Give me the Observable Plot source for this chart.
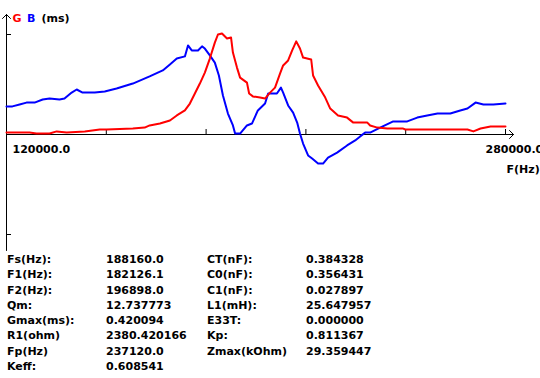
<!DOCTYPE html>
<html>
<head>
<meta charset="utf-8">
<script src="https://cdn.jsdelivr.net/npm/d3@7"></script>
<script src="https://cdn.jsdelivr.net/npm/@observablehq/plot@0.6"></script>
<style>
  html, body { margin: 0; padding: 0; background: #fff; }
  #wrap { position: relative; width: 540px; height: 378px; overflow: hidden; background: #fff;
          font-family: "DejaVu Sans", sans-serif; font-weight: bold; font-size: 11px; color: #000; }
  #wrap svg { display: block; }
  #params { position: absolute; left: 7px; top: 252px; display: grid;
            grid-template-columns: 99px 101px 99px auto; line-height: 15.3px; white-space: nowrap; }
</style>
</head>
<body>
<div id="wrap"><div id="chart"></div><div id="params"></div></div>
<script>
// ---- data ----
const xDomain = [120000, 280000];            // F(Hz)
const yTickValues = [-0.42, 0.42];           // ms
const xTickValues = [152000, 184000, 216000, 248000, 280000];
const xEndLabels = ["120000.0", "280000.0"];
const xTitle = "F(Hz)";
const legendParts = ["G", "B", "(ms)"];

// Conductance G (red)
const freqG = [120000, 127400, 129600, 133800, 136100, 139300, 145100, 149900, 152100, 160500,
  164300, 165900, 169200, 172400, 174600, 177200, 178800, 180400, 182000, 183600,
  185200, 186800, 187800, 189100, 190700, 192000, 192600, 193900, 194900, 197100,
  197800, 199000, 201300, 202900, 204500, 206100, 207700, 208700, 210300, 211600,
  212900, 214100, 215100, 217700, 218300, 219900, 222200, 223800, 226300, 229200,
  231200, 233400, 235700, 236600, 238900, 242100, 247200, 247900, 267800, 269700,
  272000, 275200, 280000];
const valuesG = [0.008, 0.008, 0.004, 0.004, 0.013, 0.008, 0.013, 0.021, 0.021, 0.025,
  0.029, 0.038, 0.046, 0.059, 0.080, 0.101, 0.130, 0.172, 0.214, 0.260,
  0.319, 0.386, 0.420, 0.424, 0.403, 0.407, 0.344, 0.281, 0.239, 0.218,
  0.172, 0.160, 0.155, 0.151, 0.176, 0.197, 0.256, 0.290, 0.311, 0.353,
  0.391, 0.361, 0.323, 0.315, 0.248, 0.206, 0.155, 0.109, 0.080, 0.071,
  0.050, 0.050, 0.050, 0.038, 0.029, 0.025, 0.025, 0.021, 0.021, 0.013,
  0.025, 0.034, 0.034];

// Susceptance B (blue)
const freqB = [120000, 121900, 124200, 126400, 129000, 131600, 133800, 137000, 138600, 140900,
  142500, 144400, 148300, 151500, 155300, 160500, 165900, 170100, 172400, 174600,
  177200, 178200, 179400, 181400, 182700, 183600, 185200, 186800, 188100, 189400,
  191000, 192600, 193300, 194900, 197100, 198700, 200600, 202900, 203900, 206700,
  208000, 208700, 210300, 211900, 213200, 214100, 215100, 216700, 218000, 219900,
  221500, 223100, 226000, 229200, 231800, 233400, 235000, 236600, 239800, 244000,
  248500, 251700, 254900, 258200, 262300, 265500, 267800, 270400, 272900, 276100,
  280000];
const valuesB = [0.118, 0.118, 0.126, 0.134, 0.134, 0.147, 0.151, 0.147, 0.151, 0.176,
  0.189, 0.176, 0.176, 0.181, 0.193, 0.214, 0.244, 0.269, 0.294, 0.319,
  0.328, 0.374, 0.353, 0.353, 0.370, 0.361, 0.332, 0.302, 0.248, 0.164,
  0.088, 0.038, 0.004, 0.004, 0.038, 0.046, 0.101, 0.130, 0.172, 0.172,
  0.197, 0.176, 0.122, 0.092, 0.050, 0.004, -0.038, -0.088, -0.101, -0.122,
  -0.122, -0.097, -0.076, -0.046, -0.025, -0.008, 0.008, 0.008, 0.029, 0.055,
  0.055, 0.071, 0.080, 0.088, 0.088, 0.101, 0.109, 0.134, 0.126, 0.126,
  0.130];

// Parameter table
const paramLabelsLeft = ["Fs(Hz):", "F1(Hz):", "F2(Hz):", "Qm:", "Gmax(ms):", "R1(ohm)", "Fp(Hz)", "Keff:"];
const paramValuesLeft = ["188160.0", "182126.1", "196898.0", "12.737773", "0.420094", "2380.420166", "237120.0", "0.608541"];
const paramLabelsRight = ["CT(nF):", "C0(nF):", "C1(nF):", "L1(mH):", "E33T:", "Kp:", "Zmax(kOhm)"];
const paramValuesRight = ["0.384328", "0.356431", "0.027897", "25.647957", "0.000000", "0.811367", "29.359447"];

// ---- build ----
const G = freqG.map((f, i) => ({f, v: valuesG[i]}));
const B = freqB.map((f, i) => ({f, v: valuesB[i]}));
const textStyle = {textAnchor: "start", lineAnchor: "bottom", fontFamily: "DejaVu Sans", fontWeight: "bold", fontSize: 11};

const chart = Plot.plot({
  width: 540,
  height: 252,
  marginLeft: 6, marginRight: 27, marginTop: 14, marginBottom: 2,
  x: {type: "linear", domain: xDomain, range: [6, 505], axis: null},
  y: {type: "linear", domain: yTickValues, range: [234, 34], axis: null},
  style: {background: "#fff", color: "#000", fontFamily: "DejaVu Sans", fontWeight: "bold", fontSize: "11px", overflow: "visible"},
  marks: [
    // x axis with arrow
    Plot.arrow([0], {x1: () => xDomain[0], x2: () => xDomain[1], y1: () => 0, y2: () => 0,
      insetStart: 0, insetEnd: -8, headAngle: 90, headLength: 8.5, stroke: "#000", strokeWidth: 1}),
    // y axis with arrow
    Plot.arrow([0], {x1: () => xDomain[0], x2: () => xDomain[0], y1: () => yTickValues[0], y2: () => yTickValues[1],
      insetStart: -16, insetEnd: -20, headAngle: 90, headLength: 8.5, stroke: "#000", strokeWidth: 1}),
    // ticks
    Plot.ruleY(yTickValues, {insetRight: 502, stroke: "#000", strokeWidth: 1}),
    Plot.ruleX(xTickValues, {insetTop: 115, insetBottom: 116, stroke: "#000", strokeWidth: 1}),
    // curves
    Plot.line(B, {x: "f", y: "v", stroke: "#0000ff", strokeWidth: 2, curve: "linear"}),
    Plot.line(G, {x: "f", y: "v", stroke: "#ff0000", strokeWidth: 2, curve: "linear"}),
    // legend labels
    Plot.text([legendParts[0]], {frameAnchor: "top-left", text: d => d, dx: 6, dy: 7, fill: "#ff0000", ...textStyle}),
    Plot.text([legendParts[1]], {frameAnchor: "top-left", text: d => d, dx: 20.5, dy: 7, fill: "#0000ff", ...textStyle}),
    Plot.text([legendParts[2]], {frameAnchor: "top-left", text: d => d, dx: 35, dy: 7, fill: "#000", ...textStyle}),
    // axis labels
    Plot.text([xEndLabels[0]], {x: () => xDomain[0], y: () => 0, text: d => d, dx: 6, dy: 18, fill: "#000", ...textStyle}),
    Plot.text([xEndLabels[1]], {x: () => xDomain[1], y: () => 0, text: d => d, dx: -20, dy: 18, fill: "#000", ...textStyle}),
    Plot.text([xTitle], {x: () => xDomain[1], y: () => 0, text: d => d, dx: 1, dy: 38, fill: "#000", ...textStyle})
  ]
});
document.getElementById("chart").appendChild(chart);

const params = document.getElementById("params");
paramLabelsLeft.forEach((lab, i) => {
  const cells = [lab, paramValuesLeft[i], paramLabelsRight[i] || "", paramValuesRight[i] || ""];
  cells.forEach(c => {
    const d = document.createElement("div");
    d.textContent = c;
    params.appendChild(d);
  });
});
</script>
</body>
</html>
